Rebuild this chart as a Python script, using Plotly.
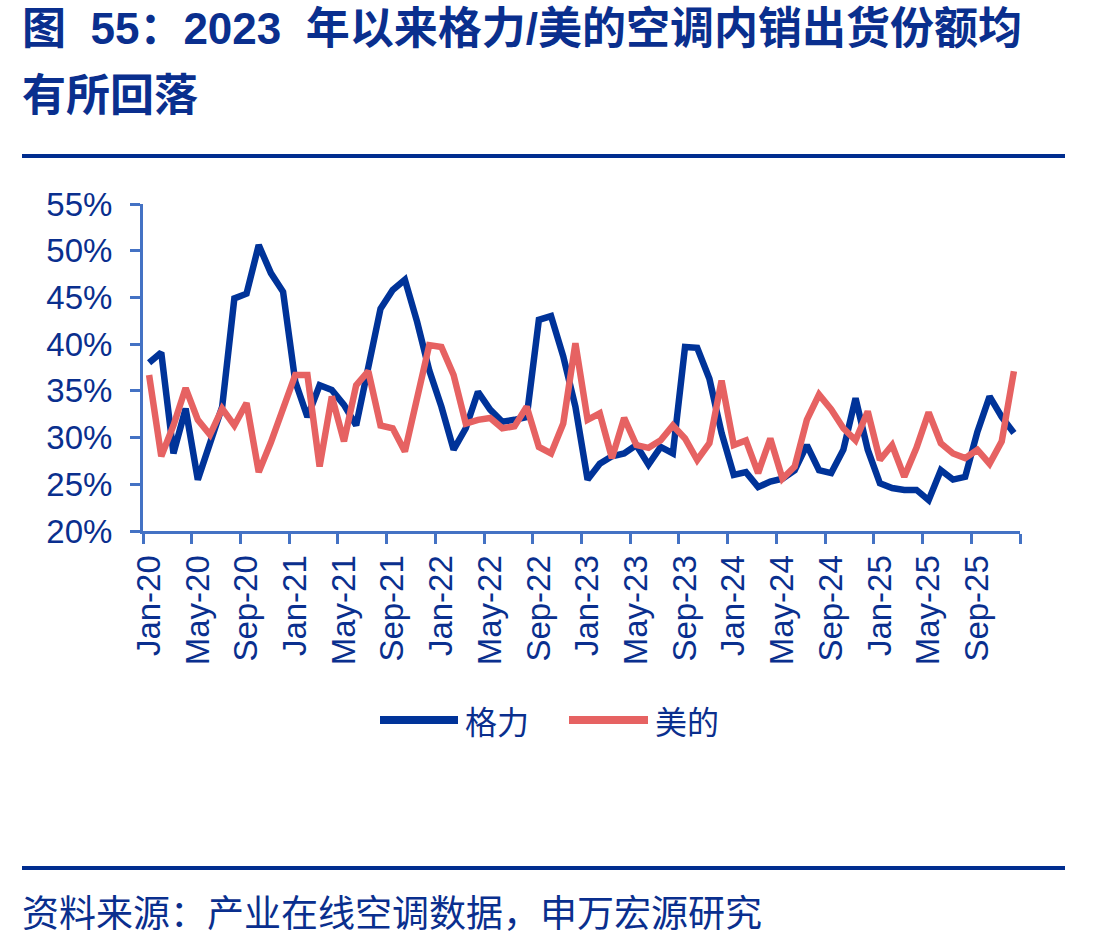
import plotly.graph_objects as go

# ---- data ----
months = []
mnames = ["Jan", "Feb", "Mar", "Apr", "May", "Jun", "Jul", "Aug", "Sep", "Oct", "Nov", "Dec"]
for yy in range(20, 26):
    for m in mnames:
        months.append(f"{m}-{yy}")

gree = [38.0, 39.1, 28.3, 33.1, 25.5, 29.4, 33.3, 44.9, 45.4, 50.6, 47.6, 45.6,
        36.0, 32.2, 35.6, 35.1, 33.5, 31.3, 37.2, 43.8, 45.8, 46.9, 42.4, 37.2,
        33.3, 28.7, 31.0, 34.9, 33.0, 31.7, 31.9, 32.2, 42.6, 43.0, 38.7, 33.3,
        25.5, 27.2, 28.0, 28.3, 29.2, 27.1, 29.0, 28.3, 39.7, 39.6, 36.3, 30.5,
        26.0, 26.3, 24.7, 25.3, 25.6, 26.5, 29.2, 26.5, 26.2, 28.7, 34.2, 28.7,
        25.1, 24.6, 24.4, 24.4, 23.3, 26.5, 25.5, 25.8, 30.6, 34.4, 32.2, 30.5]

midea = [36.7, 28.0, 31.3, 35.3, 31.9, 30.3, 33.1, 31.3, 33.7, 26.3, 29.5, 33.1,
         36.7, 36.7, 26.9, 34.4, 29.6, 35.6, 37.1, 31.3, 31.0, 28.5, 34.2, 39.9,
         39.7, 36.7, 31.5, 31.9, 32.1, 31.0, 31.2, 33.3, 29.0, 28.3, 31.5, 40.1,
         31.9, 32.6, 27.8, 32.1, 29.2, 28.9, 29.7, 31.3, 29.9, 27.6, 29.4, 36.1,
         29.2, 29.7, 26.2, 29.9, 25.6, 26.9, 31.9, 34.6, 33.0, 31.0, 29.7, 32.8,
         27.6, 29.2, 25.8, 28.9, 32.7, 29.4, 28.3, 27.8, 28.7, 27.2, 29.6, 37.1]

series_names = ["格力", "美的"]
y_ticks = [20, 25, 30, 35, 40, 45, 50, 55]
y_tick_text = [f"{v}%" for v in y_ticks]

title_line1 = "图  55：2023  年以来格力/美的空调内销出货份额均"
title_line2 = "有所回落"
source_text = "资料来源：产业在线空调数据，申万宏源研究"

# ---- style ----
BLUE = "#003399"
RED = "#E66262"
TXT = "#0A2F8E"
AXIS = "#4472C4"
W, H = 1114, 944
L, R, T, B = 143, 1020, 204, 531


def px_x(px):
    return (px - L) / (R - L)


def px_y(py):
    return (B - py) / (B - T)


xi = list(range(len(months)))
fig = go.Figure()
fig.add_trace(go.Scatter(x=xi, y=gree, mode="lines", name=series_names[0],
                         line=dict(color=BLUE, width=6.5), showlegend=False))
fig.add_trace(go.Scatter(x=xi, y=midea, mode="lines", name=series_names[1],
                         line=dict(color=RED, width=6.5), showlegend=False))

tick_idx = list(range(0, len(months), 4))
boundaries = [i - 0.5 for i in range(0, len(months) + 1, 4)]

tickfont = dict(family="Liberation Sans, Arial, Noto Sans CJK SC", size=33, color=TXT)

fig.update_xaxes(
    range=[-0.5, len(months) - 0.5],
    tickmode="array", tickvals=tick_idx, ticktext=[months[i] for i in tick_idx],
    tickangle=-90, ticks="", tickfont=tickfont,
    showline=True, linecolor=AXIS, linewidth=3, showgrid=False, zeroline=False,
    ticklabelstandoff=8,
    minor=dict(tickmode="array", tickvals=boundaries, ticks="outside",
               ticklen=10, tickwidth=3, tickcolor=AXIS, showgrid=False),
)
fig.update_yaxes(
    range=[20, 55], tickmode="array", tickvals=y_ticks, ticktext=y_tick_text,
    ticks="outside", ticklen=10, tickwidth=3, tickcolor=AXIS, tickfont=tickfont,
    showline=True, linecolor=AXIS, linewidth=3, showgrid=False, zeroline=False,
    ticklabelstandoff=11,
)

shapes = []
# top and bottom rules
for py in (156, 868):
    shapes.append(dict(type="line", xref="paper", yref="paper",
                       x0=px_x(22), x1=px_x(1065), y0=px_y(py), y1=px_y(py),
                       line=dict(color="#002D8F", width=4)))
# legend samples
shapes.append(dict(type="line", xref="paper", yref="paper",
                   x0=px_x(380), x1=px_x(458), y0=px_y(720), y1=px_y(720),
                   line=dict(color=BLUE, width=8)))
shapes.append(dict(type="line", xref="paper", yref="paper",
                   x0=px_x(569), x1=px_x(648), y0=px_y(720), y1=px_y(720),
                   line=dict(color=RED, width=8)))

cjk = "Liberation Sans, Arial, Noto Sans CJK SC"
annotations = [
    dict(text=f"<b>{title_line1}</b>", xref="paper", yref="paper",
         x=px_x(20), y=px_y(28), xanchor="left", yanchor="middle", showarrow=False,
         font=dict(family=cjk, size=44, color=TXT)),
    dict(text=f"<b>{title_line2}</b>", xref="paper", yref="paper",
         x=px_x(20), y=px_y(95), xanchor="left", yanchor="middle", showarrow=False,
         font=dict(family=cjk, size=44, color=TXT)),
    dict(text=source_text, xref="paper", yref="paper",
         x=px_x(20), y=px_y(911), xanchor="left", yanchor="middle", showarrow=False,
         font=dict(family="Noto Sans CJK SC", size=37, color=TXT)),
    dict(text=series_names[0], xref="paper", yref="paper",
         x=px_x(463), y=px_y(720), xanchor="left", yanchor="middle", showarrow=False,
         font=dict(family="Noto Sans CJK SC", size=32, color=TXT)),
    dict(text=series_names[1], xref="paper", yref="paper",
         x=px_x(653), y=px_y(720), xanchor="left", yanchor="middle", showarrow=False,
         font=dict(family="Noto Sans CJK SC", size=32, color=TXT)),
]

fig.update_layout(
    width=W, height=H,
    margin=dict(l=L, r=W - R, t=T, b=H - B),
    paper_bgcolor="white", plot_bgcolor="white",
    showlegend=False,
    shapes=shapes, annotations=annotations,
)

fig.write_html("out.html")
